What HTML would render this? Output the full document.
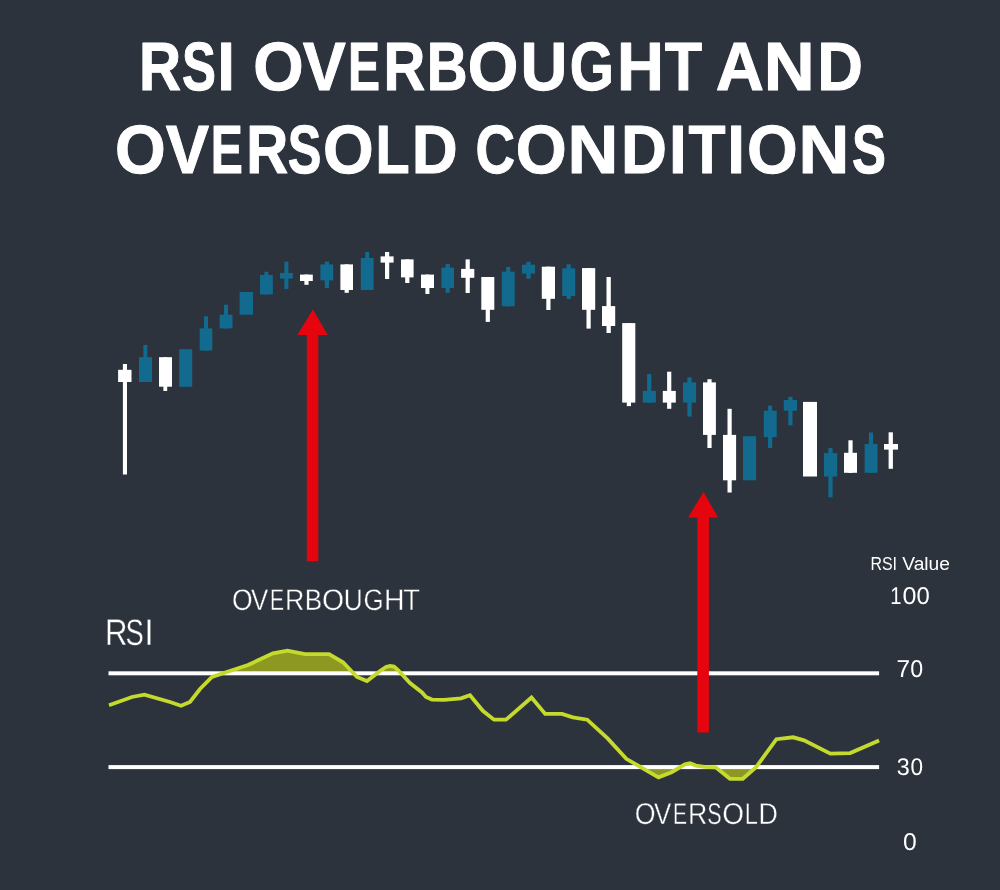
<!DOCTYPE html>
<html lang="en"><head><meta charset="utf-8"><title>RSI Overbought and Oversold Conditions</title>
<style>html,body{margin:0;padding:0;background:#2d333d;}body{width:1000px;height:890px;overflow:hidden;}svg{display:block;}text{font-family:"Liberation Sans",Arial,sans-serif;fill:#fff;}</style></head><body>
<svg width="1000" height="890" viewBox="0 0 1000 890">
<rect width="1000" height="890" fill="#2d333d"/>
<g id="candles" shape-rendering="auto">
<rect x="122.9" y="364" width="4.1" height="110.5" fill="#ffffff"/>
<rect x="118.1" y="369.8" width="13.4" height="12.2" fill="#ffffff"/>
<rect x="143.4" y="345" width="3.9" height="37" fill="#126a8e"/>
<rect x="139" y="357.2" width="13" height="24.8" fill="#126a8e"/>
<rect x="163.4" y="357.2" width="3.8" height="33.8" fill="#ffffff"/>
<rect x="159" y="357.2" width="13" height="29.5" fill="#ffffff"/>
<rect x="179.2" y="349.2" width="13" height="37.6" fill="#126a8e"/>
<rect x="204" y="316.3" width="4" height="34.2" fill="#126a8e"/>
<rect x="199.7" y="328.4" width="12.6" height="22.1" fill="#126a8e"/>
<rect x="224" y="304.7" width="4" height="23.7" fill="#126a8e"/>
<rect x="219.7" y="314.7" width="12.8" height="13.7" fill="#126a8e"/>
<rect x="239.6" y="292" width="13.4" height="22.7" fill="#126a8e"/>
<rect x="264.4" y="271.8" width="4" height="22.6" fill="#126a8e"/>
<rect x="260" y="275" width="12.8" height="19.4" fill="#126a8e"/>
<rect x="284.4" y="261.6" width="4" height="27.4" fill="#126a8e"/>
<rect x="280" y="273" width="12.8" height="5.6" fill="#126a8e"/>
<rect x="304.4" y="274.6" width="4.2" height="10.2" fill="#ffffff"/>
<rect x="300" y="274.6" width="12.8" height="6.4" fill="#ffffff"/>
<rect x="324.8" y="261.6" width="4.2" height="26.4" fill="#126a8e"/>
<rect x="320.4" y="264.4" width="12.8" height="16" fill="#126a8e"/>
<rect x="344.6" y="264.4" width="4.2" height="28.4" fill="#ffffff"/>
<rect x="340.4" y="264.4" width="12.6" height="25.6" fill="#ffffff"/>
<rect x="365.2" y="252" width="4" height="38" fill="#126a8e"/>
<rect x="360.8" y="258" width="12.8" height="32" fill="#126a8e"/>
<rect x="385" y="252" width="4.2" height="27" fill="#ffffff"/>
<rect x="380.6" y="256.4" width="13" height="6.2" fill="#ffffff"/>
<rect x="405.2" y="259.4" width="4.2" height="23.6" fill="#ffffff"/>
<rect x="401" y="259.4" width="12.6" height="18" fill="#ffffff"/>
<rect x="425.4" y="274.6" width="4" height="19.4" fill="#ffffff"/>
<rect x="421" y="274.6" width="13" height="13.4" fill="#ffffff"/>
<rect x="445.6" y="264" width="4.2" height="28.8" fill="#126a8e"/>
<rect x="441.4" y="267.6" width="12.6" height="20.4" fill="#126a8e"/>
<rect x="465.6" y="259.4" width="4.2" height="33.6" fill="#ffffff"/>
<rect x="461.1" y="268.9" width="13.2" height="8.9" fill="#ffffff"/>
<rect x="485.7" y="277" width="4.2" height="44.9" fill="#ffffff"/>
<rect x="481.3" y="277" width="13" height="32.8" fill="#ffffff"/>
<rect x="506.1" y="266.9" width="4.2" height="39.4" fill="#126a8e"/>
<rect x="501.8" y="271.7" width="12.9" height="34.6" fill="#126a8e"/>
<rect x="526.4" y="261.8" width="4.2" height="17" fill="#126a8e"/>
<rect x="522" y="264.7" width="13" height="8.9" fill="#126a8e"/>
<rect x="546.3" y="266.7" width="4.2" height="43.3" fill="#ffffff"/>
<rect x="541.8" y="266.7" width="13.2" height="32.1" fill="#ffffff"/>
<rect x="566.6" y="264.3" width="4.2" height="34.7" fill="#126a8e"/>
<rect x="562.2" y="268.3" width="13" height="27.7" fill="#126a8e"/>
<rect x="586.5" y="268.1" width="4.2" height="60.5" fill="#ffffff"/>
<rect x="582" y="268.1" width="13.2" height="41.7" fill="#ffffff"/>
<rect x="606.5" y="277" width="4.3" height="56" fill="#ffffff"/>
<rect x="602" y="306.1" width="13.2" height="19.9" fill="#ffffff"/>
<rect x="626.8" y="323.1" width="4.2" height="83" fill="#ffffff"/>
<rect x="622.2" y="323.1" width="13.1" height="79.5" fill="#ffffff"/>
<rect x="647.1" y="374.1" width="4.2" height="28.5" fill="#126a8e"/>
<rect x="642.8" y="390.9" width="13.1" height="11.7" fill="#126a8e"/>
<rect x="667.1" y="371.7" width="4.2" height="37.1" fill="#ffffff"/>
<rect x="662.8" y="390.9" width="13" height="11.7" fill="#ffffff"/>
<rect x="687.4" y="377.3" width="4.2" height="39.3" fill="#126a8e"/>
<rect x="683" y="382.4" width="13.1" height="20.2" fill="#126a8e"/>
<rect x="707.4" y="379.2" width="4.2" height="68.8" fill="#ffffff"/>
<rect x="703" y="382.4" width="12.9" height="52.5" fill="#ffffff"/>
<rect x="727.5" y="408.8" width="4.2" height="83.7" fill="#ffffff"/>
<rect x="723" y="434.9" width="13.1" height="45.4" fill="#ffffff"/>
<rect x="743" y="436.2" width="13.1" height="44.1" fill="#126a8e"/>
<rect x="768" y="405.6" width="4.2" height="42.4" fill="#126a8e"/>
<rect x="763.8" y="410.7" width="12.9" height="26.4" fill="#126a8e"/>
<rect x="788.3" y="396.8" width="4.2" height="28.5" fill="#126a8e"/>
<rect x="783.8" y="400" width="13.2" height="10.7" fill="#126a8e"/>
<rect x="803" y="401.9" width="14" height="74.6" fill="#ffffff"/>
<rect x="828.4" y="448" width="4.2" height="49.3" fill="#126a8e"/>
<rect x="824" y="453.1" width="13.2" height="23.4" fill="#126a8e"/>
<rect x="848.4" y="440.3" width="4.2" height="32.5" fill="#ffffff"/>
<rect x="844" y="452.8" width="13" height="20" fill="#ffffff"/>
<rect x="868.9" y="432.5" width="4.2" height="40.3" fill="#126a8e"/>
<rect x="864.6" y="444" width="12.9" height="28.8" fill="#126a8e"/>
<rect x="888.6" y="432.3" width="4.3" height="36.5" fill="#ffffff"/>
<rect x="884" y="444" width="14" height="5.6" fill="#ffffff"/>
</g>
<defs><clipPath id="c70"><rect x="100" y="600" width="800" height="73"/></clipPath><clipPath id="c30"><rect x="100" y="767" width="800" height="60"/></clipPath></defs>
<path d="M109,673 L109 705.2 L132 697 L144.4 694.6 L170 702 L181 705.8 L190 702 L200 689 L212 677 L248 665 L273 653.4 L287.4 650.6 L305 654.1 L329 654.1 L343 662.3 L357 677 L367 681 L380 671 L386 667 L390 666 L394 666.6 L398 670 L410 683 L422 692.4 L426 697 L432 699.6 L444 699.8 L461 698.4 L470 695.2 L482.8 710.8 L494 719.7 L506 719.7 L531.5 697.5 L545.2 713.9 L562 713.9 L572.8 717.3 L587.2 719.7 L607.6 738.4 L626.3 758.8 L658.5 777.3 L671.6 772.2 L685 764.4 L690 763.3 L696 765.6 L704.4 766.8 L715.7 767.3 L730 778.8 L742.8 778.8 L756 767.3 L776.4 739.2 L793.2 737.3 L804 740.4 L830.4 753.6 L850.2 753.1 L879.1 740.4 L879.1,673 Z" fill="#8c9822" clip-path="url(#c70)"/>
<path d="M109,767 L109 705.2 L132 697 L144.4 694.6 L170 702 L181 705.8 L190 702 L200 689 L212 677 L248 665 L273 653.4 L287.4 650.6 L305 654.1 L329 654.1 L343 662.3 L357 677 L367 681 L380 671 L386 667 L390 666 L394 666.6 L398 670 L410 683 L422 692.4 L426 697 L432 699.6 L444 699.8 L461 698.4 L470 695.2 L482.8 710.8 L494 719.7 L506 719.7 L531.5 697.5 L545.2 713.9 L562 713.9 L572.8 717.3 L587.2 719.7 L607.6 738.4 L626.3 758.8 L658.5 777.3 L671.6 772.2 L685 764.4 L690 763.3 L696 765.6 L704.4 766.8 L715.7 767.3 L730 778.8 L742.8 778.8 L756 767.3 L776.4 739.2 L793.2 737.3 L804 740.4 L830.4 753.6 L850.2 753.1 L879.1 740.4 L879.1,767 Z" fill="#8c9822" clip-path="url(#c30)"/>
<rect x="108.5" y="671.3" width="770.6" height="4" fill="#fff"/>
<rect x="108.5" y="765.1" width="770.6" height="4" fill="#fff"/>
<polyline points="109,705.2 132,697 144.4,694.6 170,702 181,705.8 190,702 200,689 212,677 248,665 273,653.4 287.4,650.6 305,654.1 329,654.1 343,662.3 357,677 367,681 380,671 386,667 390,666 394,666.6 398,670 410,683 422,692.4 426,697 432,699.6 444,699.8 461,698.4 470,695.2 482.8,710.8 494,719.7 506,719.7 531.5,697.5 545.2,713.9 562,713.9 572.8,717.3 587.2,719.7 607.6,738.4 626.3,758.8 658.5,777.3 671.6,772.2 685,764.4 690,763.3 696,765.6 704.4,766.8 715.7,767.3 730,778.8 742.8,778.8 756,767.3 776.4,739.2 793.2,737.3 804,740.4 830.4,753.6 850.2,753.1 879.1,740.4" fill="none" stroke="#c4da2d" stroke-width="3.8" stroke-linejoin="miter" stroke-miterlimit="3" stroke-linecap="butt"/>
<path d="M313 309.5 L327.7 335 L318.3 335 L318.3 561.2 L306.85 561.2 L306.85 335 L297.3 335 Z" fill="#e6050f"/>
<path d="M703.5 492.1 L718.1 517.5 L708.9 517.5 L708.9 732.4 L697.3 732.4 L697.3 517.5 L688.1 517.5 Z" fill="#e6050f"/>
<text id="t1" y="90" font-size="68.46" font-weight="bold" stroke="#fff" stroke-width="1" stroke-linejoin="round" style="text-rendering:geometricPrecision"><tspan x="139.1" textLength="42.09" lengthAdjust="spacingAndGlyphs">R</tspan><tspan x="182.03" textLength="33.96" lengthAdjust="spacingAndGlyphs">S</tspan><tspan x="217.23" textLength="17.75" lengthAdjust="spacingAndGlyphs">I</tspan></text>
<text id="t2" y="90" font-size="68.46" font-weight="bold" stroke="#fff" stroke-width="1" stroke-linejoin="round" style="text-rendering:geometricPrecision"><tspan x="253.34" textLength="50.38" lengthAdjust="spacingAndGlyphs">O</tspan><tspan x="302.86" textLength="43.08" lengthAdjust="spacingAndGlyphs">V</tspan><tspan x="348.09" textLength="31.98" lengthAdjust="spacingAndGlyphs">E</tspan><tspan x="383.43" textLength="41.75" lengthAdjust="spacingAndGlyphs">R</tspan><tspan x="426.72" textLength="40.85" lengthAdjust="spacingAndGlyphs">B</tspan><tspan x="467.83" textLength="50.6" lengthAdjust="spacingAndGlyphs">O</tspan><tspan x="520.6" textLength="46.86" lengthAdjust="spacingAndGlyphs">U</tspan><tspan x="569.67" textLength="44.15" lengthAdjust="spacingAndGlyphs">G</tspan><tspan x="616.95" textLength="46.93" lengthAdjust="spacingAndGlyphs">H</tspan><tspan x="664.81" textLength="37.34" lengthAdjust="spacingAndGlyphs">T</tspan></text>
<text id="t3" y="90" font-size="68.46" font-weight="bold" stroke="#fff" stroke-width="1" stroke-linejoin="round" style="text-rendering:geometricPrecision"><tspan x="715.84" textLength="48.22" lengthAdjust="spacingAndGlyphs">A</tspan><tspan x="763.78" textLength="50.98" lengthAdjust="spacingAndGlyphs">N</tspan><tspan x="817.27" textLength="45.69" lengthAdjust="spacingAndGlyphs">D</tspan></text>
<text id="t4" y="173" font-size="68.46" font-weight="bold" stroke="#fff" stroke-width="1" stroke-linejoin="round" style="text-rendering:geometricPrecision"><tspan x="115.03" textLength="50.71" lengthAdjust="spacingAndGlyphs">O</tspan><tspan x="165.86" textLength="43.39" lengthAdjust="spacingAndGlyphs">V</tspan><tspan x="210.78" textLength="32.1" lengthAdjust="spacingAndGlyphs">E</tspan><tspan x="246.31" textLength="41.98" lengthAdjust="spacingAndGlyphs">R</tspan><tspan x="287.85" textLength="33.62" lengthAdjust="spacingAndGlyphs">S</tspan><tspan x="323.03" textLength="50.71" lengthAdjust="spacingAndGlyphs">O</tspan><tspan x="375.56" textLength="34.16" lengthAdjust="spacingAndGlyphs">L</tspan><tspan x="411.75" textLength="45.92" lengthAdjust="spacingAndGlyphs">D</tspan></text>
<text id="t5" y="173" font-size="68.46" font-weight="bold" stroke="#fff" stroke-width="1" stroke-linejoin="round" style="text-rendering:geometricPrecision"><tspan x="475.45" textLength="39.54" lengthAdjust="spacingAndGlyphs">C</tspan><tspan x="515.81" textLength="50.94" lengthAdjust="spacingAndGlyphs">O</tspan><tspan x="567.59" textLength="50.86" lengthAdjust="spacingAndGlyphs">N</tspan><tspan x="621.05" textLength="45.92" lengthAdjust="spacingAndGlyphs">D</tspan><tspan x="669.03" textLength="17.75" lengthAdjust="spacingAndGlyphs">I</tspan><tspan x="688.62" textLength="37.03" lengthAdjust="spacingAndGlyphs">T</tspan><tspan x="727.23" textLength="17.75" lengthAdjust="spacingAndGlyphs">I</tspan><tspan x="747.03" textLength="50.71" lengthAdjust="spacingAndGlyphs">O</tspan><tspan x="798.59" textLength="50.86" lengthAdjust="spacingAndGlyphs">N</tspan><tspan x="852.03" textLength="33.96" lengthAdjust="spacingAndGlyphs">S</tspan></text>
<text id="l1" y="610" font-size="29.8" font-weight="normal" stroke="#2d333d" stroke-width="0.4" stroke-linejoin="round" style="text-rendering:geometricPrecision"><tspan x="232.04" textLength="20.62" lengthAdjust="spacingAndGlyphs">O</tspan><tspan x="251.09" textLength="17.23" lengthAdjust="spacingAndGlyphs">V</tspan><tspan x="270.07" textLength="14.03" lengthAdjust="spacingAndGlyphs">E</tspan><tspan x="285.1" textLength="19.34" lengthAdjust="spacingAndGlyphs">R</tspan><tspan x="304.66" textLength="17.42" lengthAdjust="spacingAndGlyphs">B</tspan><tspan x="321.95" textLength="22.11" lengthAdjust="spacingAndGlyphs">O</tspan><tspan x="343.78" textLength="18.95" lengthAdjust="spacingAndGlyphs">U</tspan><tspan x="363.5" textLength="20.14" lengthAdjust="spacingAndGlyphs">G</tspan><tspan x="383.97" textLength="20.56" lengthAdjust="spacingAndGlyphs">H</tspan><tspan x="403.19" textLength="16.64" lengthAdjust="spacingAndGlyphs">T</tspan></text>
<text id="l2" y="645" font-size="36.92" font-weight="normal" stroke="#2d333d" stroke-width="0.4" stroke-linejoin="round" style="text-rendering:geometricPrecision"><tspan x="105.04" textLength="22.5" lengthAdjust="spacingAndGlyphs">R</tspan><tspan x="125.45" textLength="18.31" lengthAdjust="spacingAndGlyphs">S</tspan><tspan x="144.33" textLength="9.53" lengthAdjust="spacingAndGlyphs">I</tspan></text>
<text id="l3" y="824" font-size="30.09" font-weight="normal" stroke="#2d333d" stroke-width="0.4" stroke-linejoin="round" style="text-rendering:geometricPrecision"><tspan x="634.73" textLength="20.85" lengthAdjust="spacingAndGlyphs">O</tspan><tspan x="653.99" textLength="17.33" lengthAdjust="spacingAndGlyphs">V</tspan><tspan x="673.07" textLength="14.03" lengthAdjust="spacingAndGlyphs">E</tspan><tspan x="688.1" textLength="19.34" lengthAdjust="spacingAndGlyphs">R</tspan><tspan x="707.32" textLength="14.37" lengthAdjust="spacingAndGlyphs">S</tspan><tspan x="722.27" textLength="21.76" lengthAdjust="spacingAndGlyphs">O</tspan><tspan x="744.87" textLength="13.12" lengthAdjust="spacingAndGlyphs">L</tspan><tspan x="758.6" textLength="19.39" lengthAdjust="spacingAndGlyphs">D</tspan></text>
<text id="l4a" x="870.46" y="569.7" font-size="18.75" font-weight="normal" textLength="26.6" lengthAdjust="spacingAndGlyphs">RSI</text>
<text id="l4b" x="902.25" y="569.7" font-size="18.75" font-weight="normal" textLength="47.74" lengthAdjust="spacingAndGlyphs">Value</text>
<text id="n1" y="604" font-size="24.29" font-weight="normal" style="text-rendering:geometricPrecision"><tspan x="890.26" textLength="11.22" lengthAdjust="spacingAndGlyphs">1</tspan><tspan x="902.42" textLength="13.96" lengthAdjust="spacingAndGlyphs">0</tspan><tspan x="916.57" textLength="13.26" lengthAdjust="spacingAndGlyphs">0</tspan></text>
<text id="n2" y="677" font-size="24.29" font-weight="normal" style="text-rendering:geometricPrecision"><tspan x="896.45" textLength="13.58" lengthAdjust="spacingAndGlyphs">7</tspan><tspan x="910.29" textLength="12.91" lengthAdjust="spacingAndGlyphs">0</tspan></text>
<text id="n3" y="775" font-size="24.15" font-weight="normal" style="text-rendering:geometricPrecision"><tspan x="896.81" textLength="13.02" lengthAdjust="spacingAndGlyphs">3</tspan><tspan x="910.62" textLength="12.57" lengthAdjust="spacingAndGlyphs">0</tspan></text>
<text id="n4" y="850" font-size="24.29" font-weight="normal" style="text-rendering:geometricPrecision"><tspan x="903.14" textLength="13.73" lengthAdjust="spacingAndGlyphs">0</tspan></text>
</svg></body></html>
